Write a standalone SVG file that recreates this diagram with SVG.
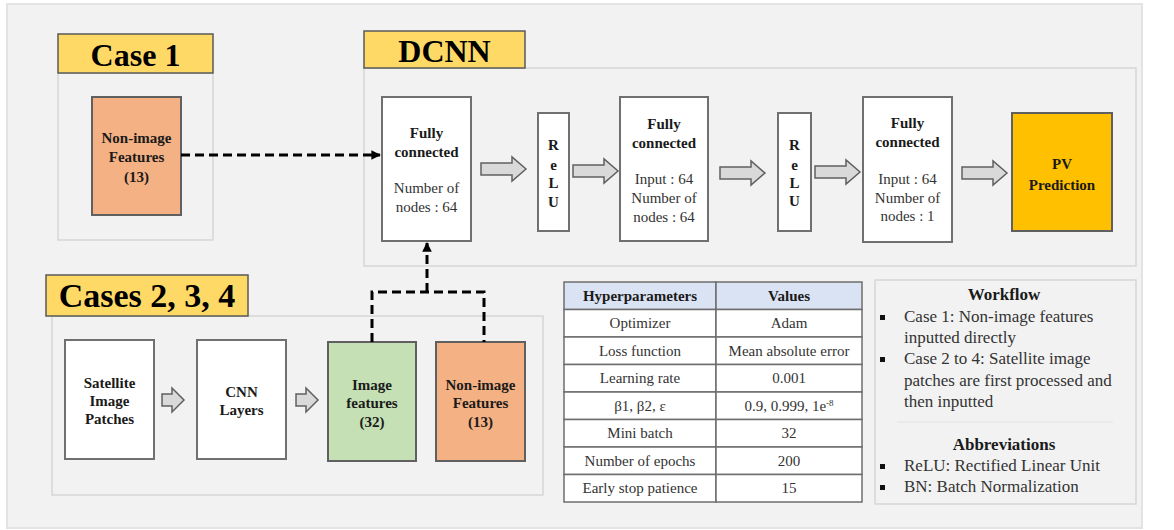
<svg xmlns="http://www.w3.org/2000/svg" width="1174" height="530" viewBox="0 0 1174 530">
<style>
.bg{fill:#f2f2f2;stroke:#e3e3e3;stroke-width:2}
.cont{fill:none;stroke:#d6d6d6;stroke-width:1.5}
.hdr{fill:#ffd966;stroke:#5a5a5a;stroke-width:1.5}
.ht{font-family:"Liberation Serif",serif;font-weight:bold;fill:#000;text-anchor:middle}
.node{fill:#fff;stroke:#707070;stroke-width:2}
.org{fill:#f4b183;stroke:#606060;stroke-width:2}
.grn{fill:#c5e0b4;stroke:#606060;stroke-width:2}
.pv{fill:#ffc000;stroke:#606060;stroke-width:2}
.b{font-family:"Liberation Serif",serif;font-weight:bold;font-size:15px;fill:#1a1a1a;text-anchor:middle}
.r{font-family:"Liberation Serif",serif;font-size:15px;fill:#333;text-anchor:middle}
.blk{fill:#d9d9d9;stroke:#606060;stroke-width:1.5}
.dash{fill:none;stroke:#000;stroke-width:3;stroke-dasharray:9 5}
.tb{fill:#fff;stroke:#6e6e6e;stroke-width:1.5}
.th{fill:#dae3f3;stroke:#6e6e6e;stroke-width:1.5}
.lg{font-family:"Liberation Serif",serif;font-size:17px;fill:#333}
.lgb{font-family:"Liberation Serif",serif;font-size:17px;font-weight:bold;fill:#1a1a1a;text-anchor:middle}
</style>
<defs>
<marker id="ah" viewBox="0 0 10 10" refX="9" refY="5" markerWidth="3.2" markerHeight="3.2" orient="auto">
<path d="M0,0 L10,5 L0,10 Z" fill="#000"/>
</marker>
<path id="bigArr" d="M0,-6 H31 V-12 L45,0 L31,12 V6 H0 Z"/>
<path id="smArr" d="M0,-6 H10 V-12 L22,0 L10,12 V6 H0 Z"/>
</defs>
<rect x="0" y="0" width="1174" height="530" fill="#fff"/>
<rect class="bg" x="7" y="4" width="1135" height="524"/>

<g id="case1">
<rect class="cont" x="58" y="73" width="155" height="167"/>
<rect class="hdr" x="58" y="34" width="155" height="39"/>
<text class="ht" x="135.5" y="66" font-size="32">Case 1</text>
</g>
<g id="case1-nonimage">
<rect class="org" x="92" y="97" width="89" height="118"/>
<text class="b" x="136.5" y="143">Non-image</text>
<text class="b" x="136.5" y="162">Features</text>
<text class="b" x="136.5" y="182">(13)</text>
</g>

<g id="dcnn">
<rect class="cont" x="364" y="68" width="772" height="198"/>
<rect class="hdr" x="364" y="31" width="161" height="37"/>
<text class="ht" x="444.5" y="62" font-size="32">DCNN</text>
</g>
<g id="fc1">
<rect class="node" x="382" y="97" width="89" height="144"/>
<text class="b" x="426.5" y="138">Fully</text>
<text class="b" x="426.5" y="157">connected</text>
<text class="r" x="426.5" y="193">Number of</text>
<text class="r" x="426.5" y="212">nodes : 64</text>
</g>
<g id="relu1">
<rect class="node" x="538" y="113" width="31" height="118"/>
<text class="b" x="553.5" y="150">R</text>
<text class="b" x="553.5" y="170">e</text>
<text class="b" x="553.5" y="188">L</text>
<text class="b" x="553.5" y="207">U</text>
</g>
<g id="fc2">
<rect class="node" x="620" y="97" width="88" height="144"/>
<text class="b" x="664" y="129">Fully</text>
<text class="b" x="664" y="148">connected</text>
<text class="r" x="664" y="184">Input : 64</text>
<text class="r" x="664" y="203">Number of</text>
<text class="r" x="664" y="222">nodes : 64</text>
</g>
<g id="relu2">
<rect class="node" x="778" y="113" width="33" height="118"/>
<text class="b" x="794.5" y="150">R</text>
<text class="b" x="794.5" y="170">e</text>
<text class="b" x="794.5" y="188">L</text>
<text class="b" x="794.5" y="206">U</text>
</g>
<g id="fc3">
<rect class="node" x="863" y="97" width="89" height="145"/>
<text class="b" x="907.5" y="128">Fully</text>
<text class="b" x="907.5" y="147">connected</text>
<text class="r" x="907.5" y="184">Input : 64</text>
<text class="r" x="907.5" y="203">Number of</text>
<text class="r" x="907.5" y="221">nodes : 1</text>
</g>
<g id="pv">
<rect class="pv" x="1012" y="113" width="100" height="118"/>
<text class="b" x="1062" y="169" font-size="17">PV</text>
<text class="b" x="1062" y="190" font-size="17">Prediction</text>
</g>

<g id="cases234">
<rect class="cont" x="52" y="316" width="491" height="179"/>
<rect class="hdr" x="46" y="275" width="202" height="41"/>
<text class="ht" x="147" y="307" font-size="34">Cases 2, 3, 4</text>
</g>
<g id="satellite">
<rect class="node" x="65" y="340" width="89" height="119"/>
<text class="b" x="109.5" y="388">Satellite</text>
<text class="b" x="109.5" y="406">Image</text>
<text class="b" x="109.5" y="424">Patches</text>
</g>
<g id="cnn">
<rect class="node" x="197" y="340" width="89" height="119"/>
<text class="b" x="241.5" y="397">CNN</text>
<text class="b" x="241.5" y="415">Layers</text>
</g>
<g id="imgfeat">
<rect class="grn" x="328" y="342" width="88" height="119"/>
<text class="b" x="372" y="390">Image</text>
<text class="b" x="372" y="408">features</text>
<text class="b" x="372" y="427">(32)</text>
</g>
<g id="nonimg2">
<rect class="org" x="436" y="342" width="89" height="119"/>
<text class="b" x="480.5" y="390">Non-image</text>
<text class="b" x="480.5" y="408">Features</text>
<text class="b" x="480.5" y="427">(13)</text>
</g>

<g id="connectors">
<use href="#bigArr" class="blk" transform="translate(481,169)"/>
<use href="#bigArr" class="blk" transform="translate(573,171)"/>
<use href="#bigArr" class="blk" transform="translate(720,173)"/>
<use href="#bigArr" class="blk" transform="translate(815,172)"/>
<use href="#bigArr" class="blk" transform="translate(962,173)"/>
<use href="#smArr" class="blk" transform="translate(162,400)"/>
<use href="#smArr" class="blk" transform="translate(296,400)"/>
<path class="dash" d="M181,155 H380" marker-end="url(#ah)"/>
<path class="dash" d="M372,342 V292 H484 V342"/>
<path class="dash" d="M427,292 V243" marker-end="url(#ah)"/>
</g>

<g id="table">
<rect class="th" x="564" y="282" width="152" height="27.5"/>
<rect class="th" x="716" y="282" width="146" height="27.5"/>
<rect class="tb" x="564" y="309.5" width="152" height="27.5"/><rect class="tb" x="716" y="309.5" width="146" height="27.5"/>
<rect class="tb" x="564" y="337" width="152" height="27.5"/><rect class="tb" x="716" y="337" width="146" height="27.5"/>
<rect class="tb" x="564" y="364.5" width="152" height="27.5"/><rect class="tb" x="716" y="364.5" width="146" height="27.5"/>
<rect class="tb" x="564" y="392" width="152" height="27.5"/><rect class="tb" x="716" y="392" width="146" height="27.5"/>
<rect class="tb" x="564" y="419.5" width="152" height="27.5"/><rect class="tb" x="716" y="419.5" width="146" height="27.5"/>
<rect class="tb" x="564" y="447" width="152" height="27.5"/><rect class="tb" x="716" y="447" width="146" height="27.5"/>
<rect class="tb" x="564" y="474.5" width="152" height="27.5"/><rect class="tb" x="716" y="474.5" width="146" height="27.5"/>
<text class="b" x="640" y="301">Hyperparameters</text>
<text class="b" x="789" y="301">Values</text>
<text class="r" x="640" y="328">Optimizer</text><text class="r" x="789" y="328">Adam</text>
<text class="r" x="640" y="356">Loss function</text><text class="r" x="789" y="356">Mean absolute error</text>
<text class="r" x="640" y="383">Learning rate</text><text class="r" x="789" y="383">0.001</text>
<text class="r" x="640" y="411">β1, β2, ε</text><text class="r" x="789" y="411">0.9, 0.999, 1e<tspan font-size="9" dy="-5">-8</tspan></text>
<text class="r" x="640" y="438">Mini batch</text><text class="r" x="789" y="438">32</text>
<text class="r" x="640" y="466">Number of epochs</text><text class="r" x="789" y="466">200</text>
<text class="r" x="640" y="493">Early stop patience</text><text class="r" x="789" y="493">15</text>
</g>

<g id="legend">
<rect class="cont" x="875" y="280" width="261" height="224"/>
<text class="lgb" x="1004" y="300">Workflow</text>
<rect x="880" y="315" width="5" height="5" fill="#111"/>
<text class="lg" x="904" y="322">Case 1: Non-image features</text>
<text class="lg" x="904" y="343">inputted directly</text>
<rect x="880" y="357" width="5" height="5" fill="#111"/>
<text class="lg" x="904" y="364">Case 2 to 4: Satellite image</text>
<text class="lg" x="904" y="386">patches are first processed and</text>
<text class="lg" x="904" y="407">then inputted</text>
<line x1="897" y1="422" x2="1113" y2="422" stroke="#e2e2e2" stroke-width="1"/>
<text class="lgb" x="1004" y="450">Abbreviations</text>
<rect x="880" y="464" width="5" height="5" fill="#111"/>
<text class="lg" x="904" y="471">ReLU: Rectified Linear Unit</text>
<rect x="880" y="485" width="5" height="5" fill="#111"/>
<text class="lg" x="904" y="492">BN: Batch Normalization</text>
</g>
</svg>
